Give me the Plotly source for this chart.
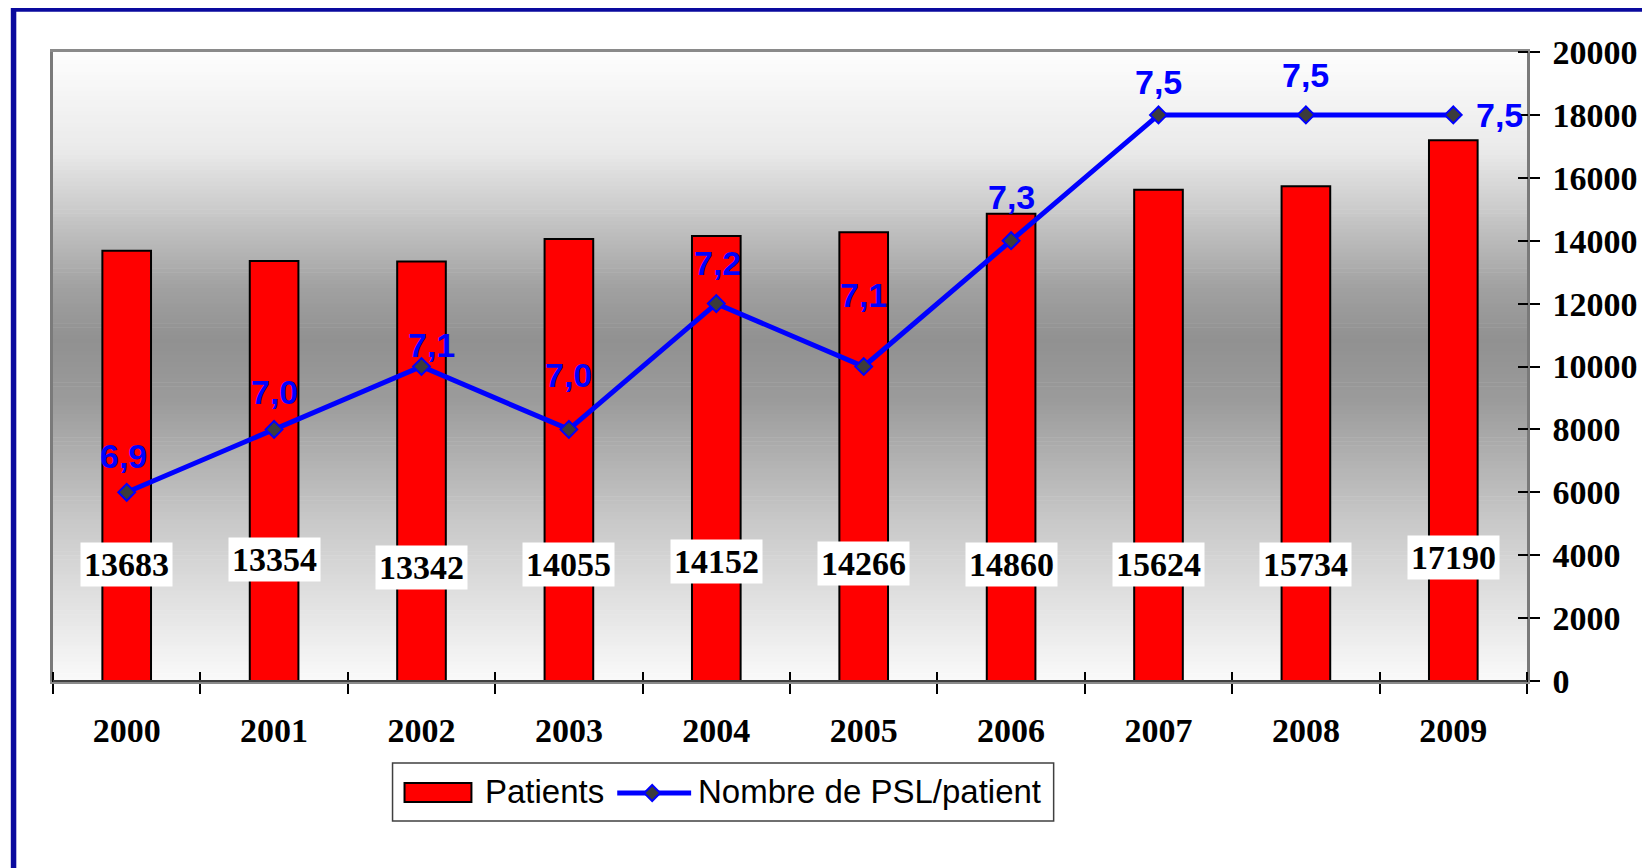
"""
Patients par an et nombre de PSL par patient, 2000-2009.
Bar chart (patients, right axis) with an overlaid line on a hidden axis.
"""

import plotly.graph_objects as go

# ── Data ────────────────────────────────────────────────────────────
YEARS = ["2000", "2001", "2002", "2003", "2004",
         "2005", "2006", "2007", "2008", "2009"]
PATIENTS = [13683, 13354, 13342, 14055, 14152,
            14266, 14860, 15624, 15734, 17190]
PSL_PER_PATIENT = [6.9, 7.0, 7.1, 7.0, 7.2, 7.1, 7.3, 7.5, 7.5, 7.5]
Y_TICKS = [0, 2000, 4000, 6000, 8000, 10000, 12000, 14000, 16000, 18000, 20000]

# ── Theme ───────────────────────────────────────────────────────────
PAGE_OFF = 8                      # browser body margin around the figure
W, H = 1650 - PAGE_OFF, 868 - PAGE_OFF
# plot area in page pixels
PLOT_L, PLOT_R, PLOT_T, PLOT_B = 53, 1529, 52, 681
SERIF = "Liberation Serif, Times New Roman, serif"
SANS = "Liberation Sans, Arial, sans-serif"
RED = "#FF0000"
BLUE = "#0000FF"
FRAME_BLUE = "#0A0A9E"

# label nudges (pixels) to follow the hand-placed labels of the original
BAR_LABEL_SHIFT = [0, 5, -3, 0, 3, 1, 0, 0, 0, 7]
LINE_LABEL_DY = [36, 37, 22, 54, 41, 72, 44, 33, 40, 0]
LINE_LABEL_DX = [-3, 0, 10, 0, 1, 0, 0, 0, 0, 46]


def px(x):
    return (x - PLOT_L) / (PLOT_R - PLOT_L)


def py(y):
    return (PLOT_B - y) / (PLOT_B - PLOT_T)


fig = go.Figure()

fig.add_trace(go.Bar(
    x=YEARS, y=PATIENTS, name="Patients",
    marker=dict(color=RED, line=dict(color="black", width=2)),
    width=0.33, hoverinfo="x+y",
))
fig.add_trace(go.Scatter(
    x=YEARS, y=PSL_PER_PATIENT, name="Nombre de PSL/patient",
    yaxis="y2", mode="lines+markers",
    line=dict(color=BLUE, width=5),
    marker=dict(symbol="diamond", size=13, color="#3C3C3C",
                line=dict(color=BLUE, width=2)),
))
# invisible trace that carries the free axes (inner half of the cross ticks)
fig.add_trace(go.Bar(
    x=YEARS, y=PATIENTS, xaxis="x2", yaxis="y3",
    opacity=0, hoverinfo="skip", showlegend=False, width=0.33,
))

# ── Background gradient (white -> grey -> white) ────────────────────
stops = [(52, 253), (150, 234), (290, 160), (340, 145),
         (400, 155), (520, 200), (681, 250)]


def grey_at(y):
    for (y0, g0), (y1, g1) in zip(stops[:-1], stops[1:]):
        if y0 <= y <= y1:
            return g0 + (g1 - g0) * (y - y0) / (y1 - y0)
    return stops[-1][1]


n_bands = 160
band = (PLOT_B - PLOT_T) / n_bands
for i in range(n_bands):
    y_top = PLOT_T + i * band
    g = int(round(grey_at(y_top + band / 2)))
    fig.add_shape(
        type="rect", xref="paper", yref="paper", layer="below",
        x0=0, x1=1, y0=py(y_top + band + 0.6), y1=py(y_top),
        fillcolor=f"rgb({g},{g},{g})", line=dict(width=0),
    )

# ── Outer blue frame ────────────────────────────────────────────────
fig.add_shape(
    type="rect", xref="paper", yref="paper",
    x0=px(13.5), x1=px(1700), y0=py(920), y1=py(9),
    line=dict(color=FRAME_BLUE, width=5.5), fillcolor="rgba(0,0,0,0)",
)

# ── Data labels ─────────────────────────────────────────────────────
for i, (val, sh) in enumerate(zip(PATIENTS, BAR_LABEL_SHIFT)):
    fig.add_annotation(
        x=i, y=3700, xref="x", yref="y", text=f"<b>{val}</b>",
        showarrow=False, font=dict(family=SERIF, size=34, color="black"),
        bgcolor="white", borderpad=3, yshift=sh,
    )

for i, (val, dy, dx) in enumerate(zip(PSL_PER_PATIENT, LINE_LABEL_DY,
                                      LINE_LABEL_DX)):
    fig.add_annotation(
        x=i, y=val, xref="x", yref="y2",
        text="<b>" + f"{val:.1f}".replace(".", ",") + "</b>",
        showarrow=False, font=dict(family=SANS, size=34, color=BLUE),
        yshift=dy, xshift=dx,
    )

# ── Hand-built legend box ───────────────────────────────────────────
fig.add_shape(type="rect", xref="paper", yref="paper",
              x0=px(393), x1=px(1055), y0=py(821), y1=py(763),
              line=dict(color="#404040", width=1.5), fillcolor="white")
fig.add_shape(type="rect", xref="paper", yref="paper",
              x0=px(405), x1=px(472), y0=py(802), y1=py(783),
              line=dict(color="black", width=2), fillcolor=RED)
fig.add_annotation(x=px(484), y=py(791), xref="paper", yref="paper",
                   text="Patients", showarrow=False,
                   xanchor="left", yanchor="middle",
                   font=dict(family=SANS, size=33, color="black"))
fig.add_shape(type="line", xref="paper", yref="paper",
              x0=px(618), x1=px(692), y0=py(793), y1=py(793),
              line=dict(color=BLUE, width=5))
fig.add_shape(type="path", xref="paper", yref="paper",
              path=(f"M {px(653)},{py(785)} L {px(661)},{py(793)} "
                    f"L {px(653)},{py(801)} L {px(645)},{py(793)} Z"),
              fillcolor="#3C3C3C", line=dict(color=BLUE, width=2))
fig.add_annotation(x=px(697), y=py(791), xref="paper", yref="paper",
                   text="Nombre de PSL/patient", showarrow=False,
                   xanchor="left", yanchor="middle",
                   font=dict(family=SANS, size=33, color="black"))

# ── Axes ────────────────────────────────────────────────────────────
cat_axis = dict(type="category", categoryorder="array", categoryarray=YEARS,
                range=[-0.5, 9.5], tickson="boundaries", showgrid=False,
                zeroline=False, fixedrange=True)

fig.update_layout(
    width=W, height=H,
    margin=dict(l=PLOT_L - PAGE_OFF, r=W - (PLOT_R - PAGE_OFF),
                t=PLOT_T - PAGE_OFF, b=H - (PLOT_B - PAGE_OFF)),
    paper_bgcolor="white", plot_bgcolor="white",
    showlegend=False, bargap=0.67,
    xaxis=dict(
        **cat_axis, ticks="outside", ticklen=10, tickwidth=1.5,
        tickcolor="black", showline=True, linecolor="#8A8A8A",
        linewidth=2.5, mirror=True,
        tickfont=dict(family=SERIF, size=34, color="black", weight="bold"),
        ticklabelstandoff=17,
    ),
    # free axis sitting 10px above the bottom: upper half of the cross ticks
    xaxis2=dict(
        **cat_axis, overlaying="x", anchor="free", position=py(671),
        side="bottom", ticks="outside", ticklen=10, tickwidth=1.5,
        tickcolor="black", showticklabels=False, showline=False,
    ),
    yaxis=dict(
        side="right", range=[0, 20000], tickvals=Y_TICKS, tickformat="d",
        ticks="outside", ticklen=10, tickwidth=1.5, tickcolor="black",
        showgrid=False, zeroline=False, showline=True,
        linecolor="#7A7A7A", linewidth=2.5, mirror=True,
        tickfont=dict(family=SERIF, size=34, color="black", weight="bold"),
        ticklabelstandoff=6, fixedrange=True,
    ),
    yaxis2=dict(overlaying="y", range=[6.6, 7.6], visible=False,
                fixedrange=True),
    # free axis 10px left of the right edge: inner half of the cross ticks
    yaxis3=dict(overlaying="y", anchor="free", position=px(1519),
                side="right", range=[0, 20000], tickvals=Y_TICKS,
                ticks="outside", ticklen=10, tickwidth=1.5,
                tickcolor="black", showticklabels=False, showgrid=False,
                zeroline=False, showline=False, fixedrange=True),
)

# bottom axis line in darker grey, drawn over the mirrored frame
fig.add_shape(type="line", xref="paper", yref="paper",
              x0=0, x1=1, y0=0, y1=0, line=dict(color="#404040", width=2))

fig.write_html("out.html")
